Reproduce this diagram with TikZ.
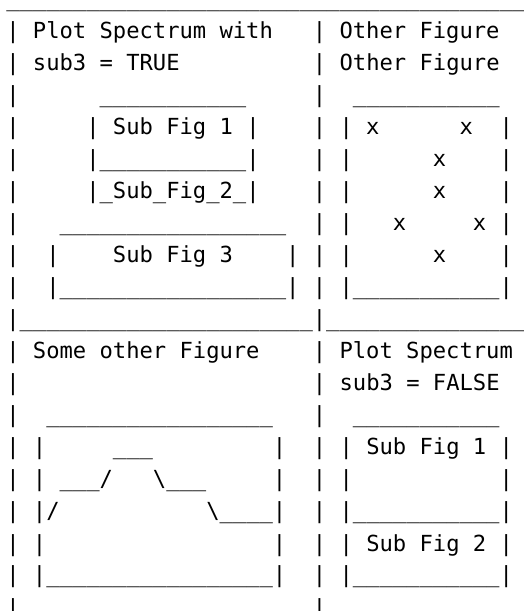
\documentclass[tikz,border=0pt]{standalone}
\usepackage{fontspec}
\usepackage{tikz}
\newfontfamily\asciifont{DejaVu Sans Mono}
\ExplSyntaxOn
\cs_new:Npn \rpt #1#2 { \prg_replicate:nn {#1} {#2} }
\ExplSyntaxOff
\tikzstyle{ascii}=[anchor=base west,inner sep=0pt,font=\asciifont\fontsize{16.61}{20}\selectfont]

\begin{document}
\begin{tikzpicture}[x=0.75pt,y=0.75pt]
        \useasboundingbox (0,0) rectangle (524,611);
        % upper half
        \node[ascii] (r1) at (6,604) {\rpt{39}{\_}};
        \node[ascii] (r2) at (6,572) {|~Plot~Spectrum~with~~~|~Other~Figure};
        \node[ascii] (r3) at (6,540) {|~sub3~=~TRUE\rpt{10}{~}|~Other~Figure};
        \node[ascii] (r4) at (6,508) {|\rpt{6}{~}\rpt{11}{\_}\rpt{5}{~}|~~\rpt{11}{\_}};
        \node[ascii] (r5) at (6,476) {|\rpt{5}{~}|~Sub~Fig~1~|\rpt{4}{~}|~|~x\rpt{6}{~}x~~|};
        \node[ascii] (r6) at (6,444) {|\rpt{5}{~}|\rpt{11}{\_}|\rpt{4}{~}|~|\rpt{6}{~}x\rpt{4}{~}|};
        \node[ascii] (r7) at (6,412) {|\rpt{5}{~}|\_Sub\_Fig\_2\_|\rpt{4}{~}|~|\rpt{6}{~}x\rpt{4}{~}|};
        \node[ascii] (r8) at (6,380) {|~~~\rpt{17}{\_}~~|~|~~~x\rpt{5}{~}x~|};
        \node[ascii] (r9) at (6,348) {|~~|~~~~Sub~Fig~3~~~~|~|~|\rpt{6}{~}x\rpt{4}{~}|};
        \node[ascii] (r10) at (6,316) {|~~|\rpt{17}{\_}|~|~|\rpt{11}{\_}|};
        \node[ascii] (r11) at (6,284) {|\rpt{22}{\_}|\rpt{15}{\_}};
        % lower half
        \node[ascii] (r12) at (6,252) {|~Some~other~Figure~~~~|~Plot~Spectrum};
        \node[ascii] (r13) at (6,220) {|\rpt{22}{~}|~sub3~=~FALSE};
        \node[ascii] (r14) at (6,188) {|~~\rpt{17}{\_}~~~|~~\rpt{11}{\_}};
        \node[ascii] (r15) at (6,156) {|~|\rpt{5}{~}\_\_\_\rpt{9}{~}|~~|~|~Sub~Fig~1~|};
        \node[ascii] (r16) at (6,124) {|~|~\_\_\_/~~~\textbackslash\_\_\_\rpt{5}{~}|~~|~|\rpt{11}{~}|};
        \node[ascii] (r17) at (6,92) {|~|/\rpt{11}{~}\textbackslash\rpt{4}{\_}|~~|~|\rpt{11}{\_}|};
        \node[ascii] (r18) at (6,60) {|~|\rpt{17}{~}|~~|~|~Sub~Fig~2~|};
        \node[ascii] (r19) at (6,28) {|~|\rpt{17}{\_}|~~|~|\rpt{11}{\_}|};
        \node[ascii] (r20) at (6,-4) {|\rpt{22}{~}|};
\end{tikzpicture}
\end{document}
